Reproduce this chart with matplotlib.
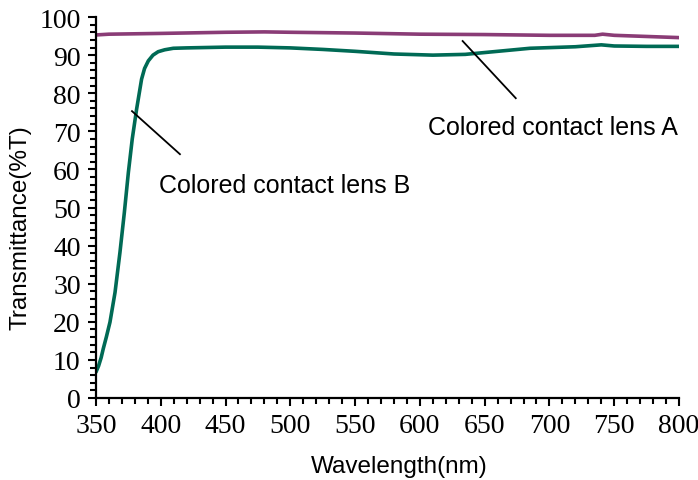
import matplotlib
matplotlib.use("Agg")
import matplotlib.pyplot as plt
from matplotlib.ticker import MultipleLocator

# Data
wl_b = [350, 352, 354, 355.6, 358, 360.8, 364.7, 368.5, 371.9, 375, 378, 381.4, 385.2, 387.5, 390.4, 394, 398, 403, 409.7,
        420, 435, 450, 475, 500, 525, 550, 580, 610, 635, 660, 685, 720, 740, 750, 775, 800]
t_b = [6.8, 8.4, 10.6, 12.9, 16.0, 19.9, 27.7, 38.2, 48.7, 59.2, 68.0, 75.9, 83.7, 86.5, 88.5, 90.0, 90.9, 91.4, 91.8,
       91.9, 92.0, 92.1, 92.1, 91.9, 91.5, 91.0, 90.3, 90.0, 90.2, 91.0, 91.8, 92.2, 92.7, 92.4, 92.3, 92.3]

wl_a = [350, 360, 400, 450, 480, 500, 550, 600, 650, 700, 735, 741, 750, 800]
t_a = [95.3, 95.5, 95.7, 96.0, 96.1, 96.0, 95.8, 95.5, 95.4, 95.2, 95.2, 95.5, 95.2, 94.6]

label_a = "Colored contact lens A"
label_b = "Colored contact lens B"

# annotation leader lines (data coords) and text anchors
lead_a = ([633, 674], [93.7, 78.7])
text_a = (703, 71.1)
lead_b = ([377.8, 414.8], [75.3, 64.0])
text_b = (495.8, 55.9)

xticks = list(range(350, 801, 50))
yticks = list(range(0, 101, 10))

fig = plt.figure(figsize=(6.98, 4.81), dpi=100)
ax = fig.add_axes([0.1375, 0.1705, 0.8353, 0.792])

ax.plot(wl_a, t_a, color="#8A3C76", lw=2.6, solid_capstyle="round")
ax.plot(wl_b, t_b, color="#006A55", lw=2.6, solid_capstyle="round")

ax.plot(*lead_a, color="black", lw=1.3)
ax.plot(*lead_b, color="black", lw=1.3)
ax.text(*text_a, label_a, ha="center", va="center", fontsize=18, family="Liberation Sans")
ax.text(*text_b, label_b, ha="center", va="center", fontsize=18, family="Liberation Sans")

ax.set_xlim(350, 800)
ax.set_ylim(0, 100)
ax.set_xticks(xticks)
ax.set_yticks(yticks)
ax.xaxis.set_minor_locator(MultipleLocator(10))
ax.yaxis.set_minor_locator(MultipleLocator(2))
for s in ["top", "right"]:
    ax.spines[s].set_visible(False)
for s in ["left", "bottom"]:
    ax.spines[s].set_linewidth(1.6)
ax.tick_params(which="major", direction="out", length=6, width=1.5, pad=5)
ax.tick_params(which="minor", direction="out", length=4, width=1.5)
for lab in ax.get_xticklabels() + ax.get_yticklabels():
    lab.set_family("Liberation Serif")
    lab.set_fontsize(20)
xl = ax.set_xlabel("Wavelength(nm)", fontsize=17.5, family="Liberation Sans")
yl = ax.set_ylabel("Transmittance(%T)", fontsize=17.5, family="Liberation Sans")
xl.set_va("center")
yl.set_va("center")
ax.xaxis.set_label_coords(0.521, -0.178)
ax.yaxis.set_label_coords(-0.1286, 0.451)

fig.savefig("out.png", dpi=100)
